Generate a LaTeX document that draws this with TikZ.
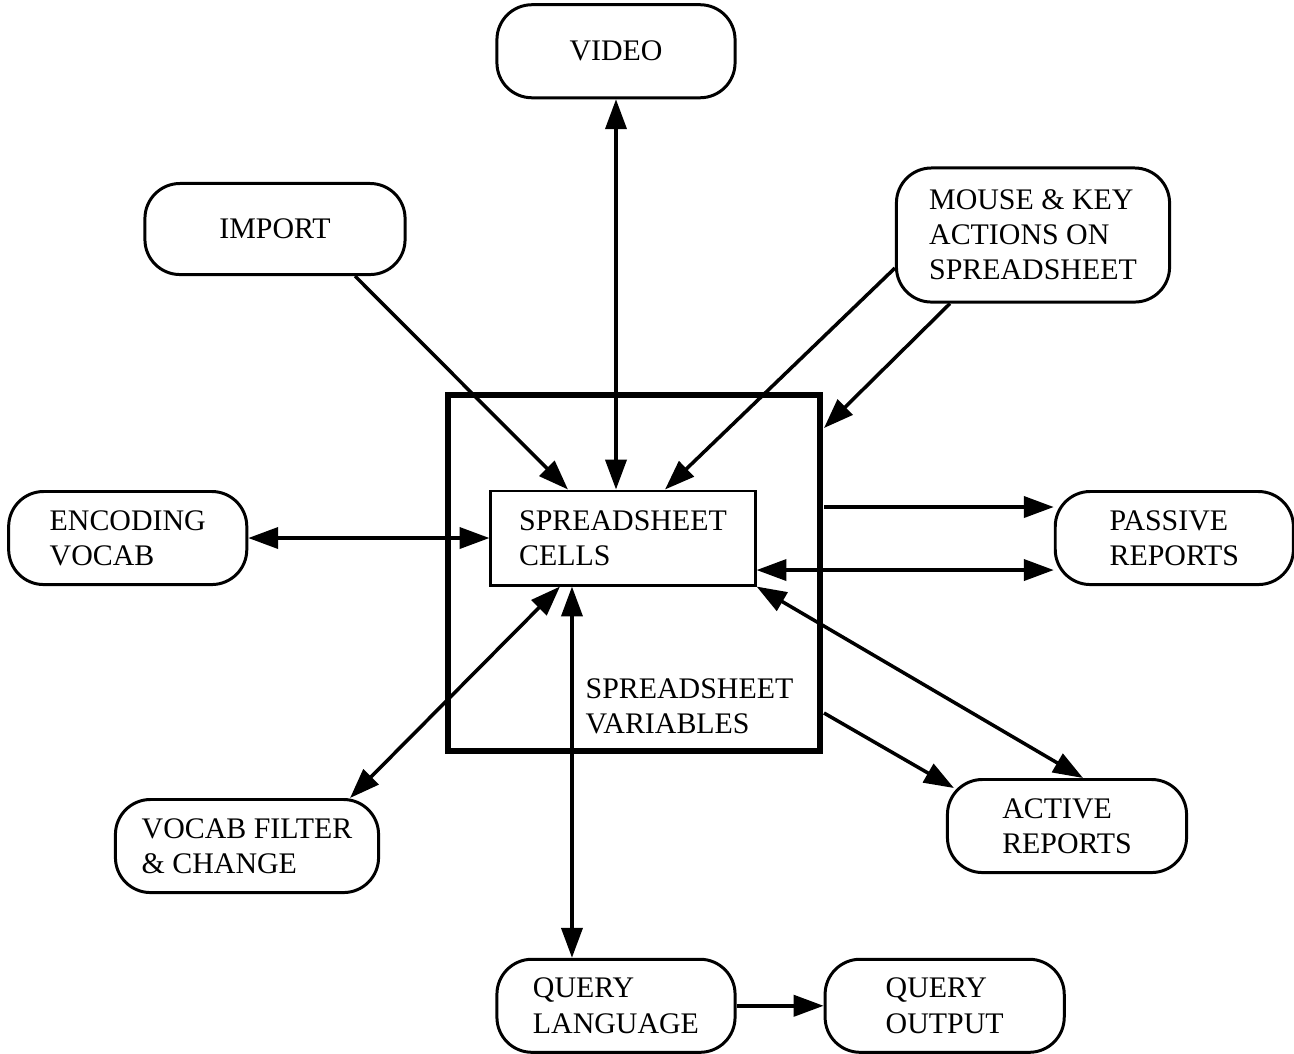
\documentclass[tikz,border=0pt]{standalone}
\usepackage{fontspec}
\setmainfont{Liberation Serif}
\usepackage{tikz}
\usetikzlibrary{arrows.meta, calc, positioning}

\begin{document}
\begin{tikzpicture}[
    x=0.01cm, y=-0.01cm,
    font=\fontsize{8.5}{10}\selectfont,
    box/.style={rectangle, draw, rounded corners=0.35cm, line width=0.85pt, minimum width=2.38cm, minimum height=0.93cm, align=left, inner sep=2pt},
    cellbox/.style={rectangle, draw, line width=0.85pt, minimum width=2.64cm, minimum height=0.94cm, align=left},
    arrow/.style={-{Triangle[length=8.5pt, width=6pt]}, line width=1pt},
    both/.style={{Triangle[length=8.5pt, width=6pt]}-{Triangle[length=8.5pt, width=6pt]}, line width=1pt}
]
    \useasboundingbox (0,0) rectangle (1294,1053);

    % spreadsheet
    \node[draw, line width=1.6pt, minimum width=3.72cm, minimum height=3.56cm] (frame) at (634,573) {};
    \node[cellbox] (cells) at (623,538) {SPREADSHEET\\CELLS};
    \node[anchor=west, inner sep=0pt, align=left] (vars) at (585,706) {SPREADSHEET\\VARIABLES};

    % inputs
    \node[box, above=3.9cm of cells, xshift=-0.07cm] (video) {VIDEO};
    \node[box, minimum width=2.6cm, minimum height=0.91cm] (import) at (275,229) {IMPORT};
    \node[box, minimum width=2.73cm, minimum height=1.34cm] (mouse) at (1033,235) {MOUSE \& KEY\\ACTIONS ON\\SPREADSHEET};
    \node[box, left=2.41cm of cells] (encoding) {ENCODING\\VOCAB};
    \node[box, minimum width=2.63cm] (vocab) at (247,846) {VOCAB FILTER\\\& CHANGE};

    % outputs
    \node[box, right=2.97cm of cells] (passive) {PASSIVE\\REPORTS};
    \node[box, minimum width=2.39cm] (active) at (1067,826) {ACTIVE\\REPORTS};
    \node[box, below=3.71cm of cells, xshift=-0.07cm] (qlang) {QUERY\\LANGUAGE};
    \node[box, minimum width=2.39cm, right=0.87cm of qlang] (qout) {QUERY\\OUTPUT};

    % points on the frame
    \coordinate (f0) at (824,428);
    \coordinate (f1) at (824,507);
    \coordinate (f2) at (824,713);
    \coordinate (p2) at ([yshift=-0.32cm]passive.west);
    \coordinate (q1) at ([xshift=-0.44cm]qlang.north);

    % arrows
    \draw[both] (video) -- (video |- cells.north);
    \draw[arrow] ([xshift=0.8cm]import.south) -- ([xshift=-0.55cm]cells.north);
    \draw[arrow] ([yshift=-0.33cm]mouse.west) -- ([xshift=0.42cm]cells.north);
    \draw[arrow] ([xshift=-0.83cm]mouse.south) -- (f0);
    \draw[both] (encoding) -- (encoding -| cells.west);
    \draw[arrow] (f1) -- (f1 -| passive.west);
    \draw[both] (p2) -- (p2 -| cells.east);
    \draw[both] (cells.south east) -- ([xshift=0.16cm]active.north);
    \draw[arrow] (f2) -- ([xshift=0.08cm, yshift=-0.1cm]active.north west);
    \draw[both] ([xshift=-0.63cm]cells.south) -- ([xshift=-0.3cm]vocab.north east);
    \draw[both] (q1) -- (q1 |- cells.south);
    \draw[arrow] (qlang) -- (qout);
\end{tikzpicture}
\end{document}
